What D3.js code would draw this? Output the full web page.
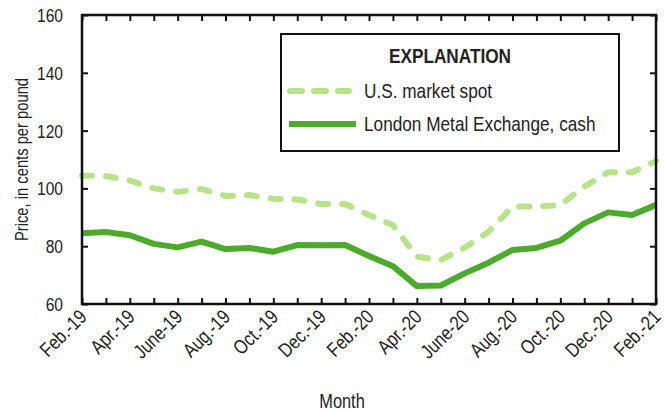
<!DOCTYPE html>
<html>
<head>
<meta charset="utf-8">
<script src="https://cdn.jsdelivr.net/npm/d3@7"></script>
<style>
  body { margin: 0; background: #fff; }
  text { font-family: "Liberation Sans", Arial, sans-serif; fill: #222; }
</style>
</head>
<body>
<div id="chart"></div>
<script>
// monthly prices, Feb. 2019 - Feb. 2021
const months = ["Feb.-19", "Mar.-19", "Apr.-19", "May-19", "June-19", "July-19", "Aug.-19", "Sept.-19",
  "Oct.-19", "Nov.-19", "Dec.-19", "Jan.-20", "Feb.-20", "Mar.-20", "Apr.-20", "May-20", "June-20",
  "July-20", "Aug.-20", "Sept.-20", "Oct.-20", "Nov.-20", "Dec.-20", "Jan.-21", "Feb.-21"];
const usSpot = [104.4, 104.3, 102.7, 100.0, 98.8, 99.8, 97.4, 97.7, 96.4, 96.2, 94.6, 94.6, 90.8,
  87.3, 76.4, 75.2, 79.5, 85.0, 93.7, 93.7, 94.3, 100.6, 105.6, 105.6, 109.5];
const lmeCash = [84.5, 84.9, 83.8, 80.8, 79.6, 81.6, 79.0, 79.4, 78.1, 80.4, 80.3, 80.4, 76.6,
  73.1, 66.2, 66.4, 70.6, 74.3, 78.7, 79.4, 81.9, 87.9, 91.7, 90.8, 94.3];
const yTicks = [60, 80, 100, 120, 140, 160];
const legendLabels = ["U.S. market spot", "London Metal Exchange, cash"];

const W = 670, H = 412;
const plotLeft = 82, plotRight = 656, plotTop = 15, plotBottom = 304;
const narrow = 0.82; // no narrow font installed, squeeze Liberation Sans instead

const svg = d3.select("#chart").append("svg")
    .attr("width", W)
    .attr("height", H);

const x = d3.scalePoint()
    .domain(months)
    .range([plotLeft, plotRight]);

const y = d3.scaleLinear()
    .domain([60, 160])
    .range([plotBottom, plotTop]);

const lightGreen = "#b9e389";
const darkGreen = "#4dab2b";

function place(px, py, rot) {
  return `translate(${px},${py}) rotate(${rot || 0}) scale(${narrow},1)`;
}

// --- lines ---
const line = d3.line()
    .x((d, i) => x(months[i]))
    .y(d => y(d));

svg.append("path")
    .datum(usSpot)
    .attr("d", line)
    .style("fill", "none")
    .style("stroke", lightGreen)
    .style("stroke-width", 6)
    .style("stroke-linecap", "round")
    .style("stroke-dasharray", "10 14");

svg.append("path")
    .datum(lmeCash)
    .attr("d", line)
    .style("fill", "none")
    .style("stroke", darkGreen)
    .style("stroke-width", 6)
    .style("stroke-linejoin", "round");

// --- axes (ticks point inward on all four sides) ---
const tick = 6;
svg.append("g")
    .attr("transform", `translate(0,${plotBottom})`)
    .call(d3.axisBottom(x).tickSizeInner(-tick).tickSizeOuter(0).tickFormat(""));
svg.append("g")
    .attr("transform", `translate(0,${plotTop})`)
    .call(d3.axisTop(x).tickSizeInner(-tick).tickSizeOuter(0).tickFormat(""));
svg.append("g")
    .attr("transform", `translate(${plotLeft},0)`)
    .call(d3.axisLeft(y).tickValues(yTicks).tickSizeInner(-tick).tickSizeOuter(0).tickFormat(""));
svg.append("g")
    .attr("transform", `translate(${plotRight},0)`)
    .call(d3.axisRight(y).tickValues(yTicks).tickSizeInner(-tick).tickSizeOuter(0).tickFormat(""));

svg.selectAll(".tick line").style("stroke", "#111").style("stroke-width", 2);
svg.selectAll(".domain").remove();

svg.append("rect")
    .attr("x", plotLeft)
    .attr("y", plotTop)
    .attr("width", plotRight - plotLeft)
    .attr("height", plotBottom - plotTop)
    .style("fill", "none")
    .style("stroke", "#111")
    .style("stroke-width", 2.5);

// y tick labels
svg.selectAll(".ylab")
    .data(yTicks)
    .enter().append("text")
    .attr("transform", d => place(plotLeft - 19, y(d) + 7))
    .style("text-anchor", "end")
    .style("font-size", "19px")
    .text(d => d);

// x tick labels every other month
svg.selectAll(".xlab")
    .data(months.filter((m, i) => i % 2 === 0))
    .enter().append("text")
    .attr("transform", d => place(x(d) + 6, plotBottom + 14, -45))
    .style("text-anchor", "end")
    .style("font-size", "20px")
    .text(d => d);

// axis titles
svg.append("text")
    .attr("transform", place(342, 408))
    .style("text-anchor", "middle")
    .style("font-size", "20px")
    .text("Month");

svg.append("text")
    .attr("transform", place(28, (plotTop + plotBottom) / 2, -90))
    .style("text-anchor", "middle")
    .style("font-size", "18px")
    .text("Price, in cents per pound");

// --- legend ---
svg.append("rect")
    .attr("x", 281)
    .attr("y", 34)
    .attr("width", 338)
    .attr("height", 117)
    .style("fill", "#fff")
    .style("stroke", "#111")
    .style("stroke-width", 2);

svg.append("text")
    .attr("transform", place(450, 63))
    .style("text-anchor", "middle")
    .style("font-size", "21px")
    .style("font-weight", "bold")
    .text("EXPLANATION");

svg.append("line")
    .attr("x1", 290).attr("x2", 349)
    .attr("y1", 91).attr("y2", 91)
    .style("stroke", lightGreen)
    .style("stroke-width", 6)
    .style("stroke-linecap", "round")
    .style("stroke-dasharray", "12 12");

svg.append("line")
    .attr("x1", 289).attr("x2", 356)
    .attr("y1", 124).attr("y2", 124)
    .style("stroke", darkGreen)
    .style("stroke-width", 6);

svg.selectAll(".leg")
    .data(legendLabels)
    .enter().append("text")
    .attr("transform", (d, i) => place(364, 98 + i * 33))
    .style("font-size", "21px")
    .text(d => d);
</script>
</body>
</html>
